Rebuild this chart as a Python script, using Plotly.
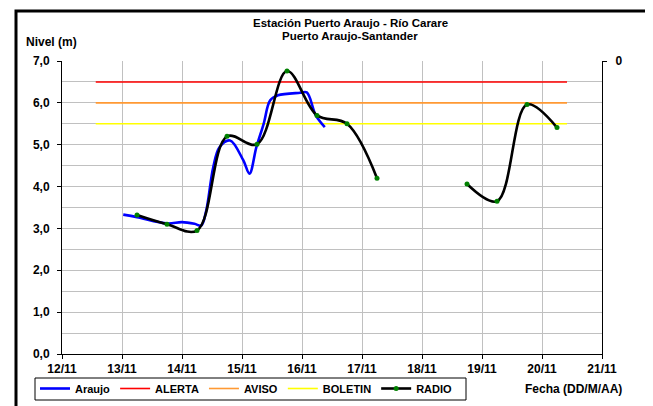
import plotly.graph_objects as go

# ---- data ----
araujo_dates = ["2011-11-13 00:30", "2011-11-13 06:00", "2011-11-13 18:00", "2011-11-14 00:00",
                "2011-11-14 05:00", "2011-11-14 07:40", "2011-11-14 09:36", "2011-11-14 12:30",
                "2011-11-14 15:00", "2011-11-14 19:12", "2011-11-15 00:30", "2011-11-15 03:00",
                "2011-11-15 05:45", "2011-11-15 08:40", "2011-11-15 11:17", "2011-11-15 14:24",
                "2011-11-15 23:17", "2011-11-16 01:55", "2011-11-16 05:31", "2011-11-16 09:07"]
araujo_values = [3.33, 3.27, 3.12, 3.15, 3.11, 3.07, 3.40, 4.46, 4.94, 5.10,
                 4.63, 4.31, 4.94, 5.50, 6.06, 6.18, 6.24, 6.25, 5.70, 5.42]

radio_dates = ["2011-11-13 06:00", "2011-11-13 18:00", "2011-11-14 06:00", "2011-11-14 18:00",
               "2011-11-15 06:00", "2011-11-15 18:00", "2011-11-16 06:00", "2011-11-16 18:00",
               "2011-11-17 06:00", "2011-11-18 06:00", "2011-11-18 18:00", "2011-11-19 06:00",
               "2011-11-19 18:00", "2011-11-20 06:00"]
radio_values = [3.32, 3.10, 2.95, 5.20, 5.01, 6.76, 5.70, 5.50, 4.20, None, 4.06, 3.65, 5.96, 5.41]

threshold_dates = ["2011-11-12 13:30", "2011-11-20 10:00"]
alerta_level = 6.5
aviso_level = 6.0
boletin_level = 5.5

x_range = ["2011-11-12", "2011-11-21"]
y_ticks = [0, 1, 2, 3, 4, 5, 6, 7]

FONT = "Liberation Sans, Arial, sans-serif"

fig = go.Figure()

fig.add_trace(go.Scatter(x=threshold_dates, y=[alerta_level] * 2, mode="lines", name="ALERTA",
                         line=dict(color="#FF0000", width=1.6), legendrank=2, hoverinfo="skip"))
fig.add_trace(go.Scatter(x=threshold_dates, y=[aviso_level] * 2, mode="lines", name="AVISO",
                         line=dict(color="#FF9933", width=1.6), legendrank=3, hoverinfo="skip"))
fig.add_trace(go.Scatter(x=threshold_dates, y=[boletin_level] * 2, mode="lines", name="BOLETIN",
                         line=dict(color="#FFFF00", width=1.6), legendrank=4, hoverinfo="skip"))
fig.add_trace(go.Scatter(x=araujo_dates, y=araujo_values, mode="lines", name="Araujo",
                         line=dict(color="#0000FF", width=2.6, shape="spline", smoothing=1.0),
                         legendrank=1))
fig.add_trace(go.Scatter(x=radio_dates, y=radio_values, mode="lines+markers", name="RADIO",
                         line=dict(color="#000000", width=2.6, shape="spline", smoothing=1.0),
                         marker=dict(color="#008000", size=5), connectgaps=False, legendrank=5))
# invisible trace to attach the secondary axis
fig.add_trace(go.Scatter(x=[x_range[0]], y=[None], yaxis="y2", showlegend=False, hoverinfo="skip"))

# page body has an 8px margin: figure starts at (8, 8) in the window
OFF = 8
W, H = 653 - OFF, 406 - OFF
# plot area in window pixels
PL, PR, PT, PB = 62, 602, 61, 354
ML, MR, MT, MB = PL - OFF, W - (PR - OFF), PT - OFF, H - (PB - OFF)
PW, PH = PR - PL, PB - PT


def px(xw):
    return (xw - PL) / PW


def py(yw):
    return (PB - yw) / PH


tickfont = dict(family=FONT, size=12, color="black", weight="bold")
grid = "#C0C0C0"

fig.update_layout(
    width=W, height=H, autosize=False,
    margin=dict(l=ML, r=MR, t=MT, b=MB, autoexpand=False),
    paper_bgcolor="white", plot_bgcolor="white",
    separators=", ",
    font=dict(family=FONT, color="black"),
    xaxis=dict(type="date", range=x_range, dtick=86400000, tickformat="%d/%m",
               showgrid=True, gridcolor=grid, gridwidth=1, automargin=False,
               showline=True, linecolor="black", linewidth=1,
               ticks="outside", ticklen=4, tickcolor="black",
               tickfont=tickfont, zeroline=False),
    yaxis=dict(range=[0, 7], tickvals=y_ticks, tickformat=".1f", automargin=False,
               showgrid=True, gridcolor=grid, gridwidth=1,
               minor=dict(dtick=0.5, tick0=0, showgrid=True, gridcolor=grid, gridwidth=1),
               showline=True, linecolor="black", linewidth=1,
               ticks="outside", ticklen=4, tickcolor="black", ticklabelstandoff=5,
               tickfont=tickfont, zeroline=False),
    yaxis2=dict(range=[0, 7], overlaying="y", side="right", tickvals=[7], ticktext=["0"],
                showgrid=False, showline=True, linecolor="black", linewidth=1, automargin=False,
                ticks="outside", ticklen=4, tickcolor="black", ticklabelstandoff=6,
                tickfont=tickfont, zeroline=False),
    showlegend=True,
    legend=dict(orientation="h", x=px(35), y=py(374), xanchor="left", yanchor="top",
                borderwidth=0, bgcolor="rgba(0,0,0,0)",
                font=dict(family=FONT, size=11, color="black", weight="bold"),
                itemwidth=30, tracegroupgap=0),
    annotations=[
        dict(text="<b>Estación Puerto Araujo - Río Carare</b>", xref="paper", yref="paper",
             x=px(350), y=py(23), xanchor="center", yanchor="middle", showarrow=False,
             font=dict(family=FONT, size=11.5, color="black")),
        dict(text="<b>Puerto Araujo-Santander</b>", xref="paper", yref="paper",
             x=px(350), y=py(36), xanchor="center", yanchor="middle", showarrow=False,
             font=dict(family=FONT, size=11.5, color="black")),
        dict(text="<b>Nivel (m)</b>", xref="paper", yref="paper",
             x=px(24), y=py(42), xanchor="left", yanchor="middle", showarrow=False,
             font=dict(family=FONT, size=12, color="black")),
        dict(text="<b>Fecha (DD/M/AA)</b>", xref="paper", yref="paper",
             x=px(573), y=py(389), xanchor="center", yanchor="middle", showarrow=False,
             font=dict(family=FONT, size=12, color="black")),
    ],
    shapes=[
        dict(type="rect", xref="paper", yref="paper",
             x0=px(35), x1=px(466), y0=py(400), y1=py(378),
             line=dict(color="black", width=1), fillcolor="rgba(0,0,0,0)", layer="above"),
        dict(type="rect", xref="paper", yref="paper",
             x0=px(16), x1=px(648.5), y0=py(430), y1=py(11),
             line=dict(color="black", width=3), fillcolor="rgba(0,0,0,0)", layer="above"),
    ],
)

fig.write_html("out.html")
